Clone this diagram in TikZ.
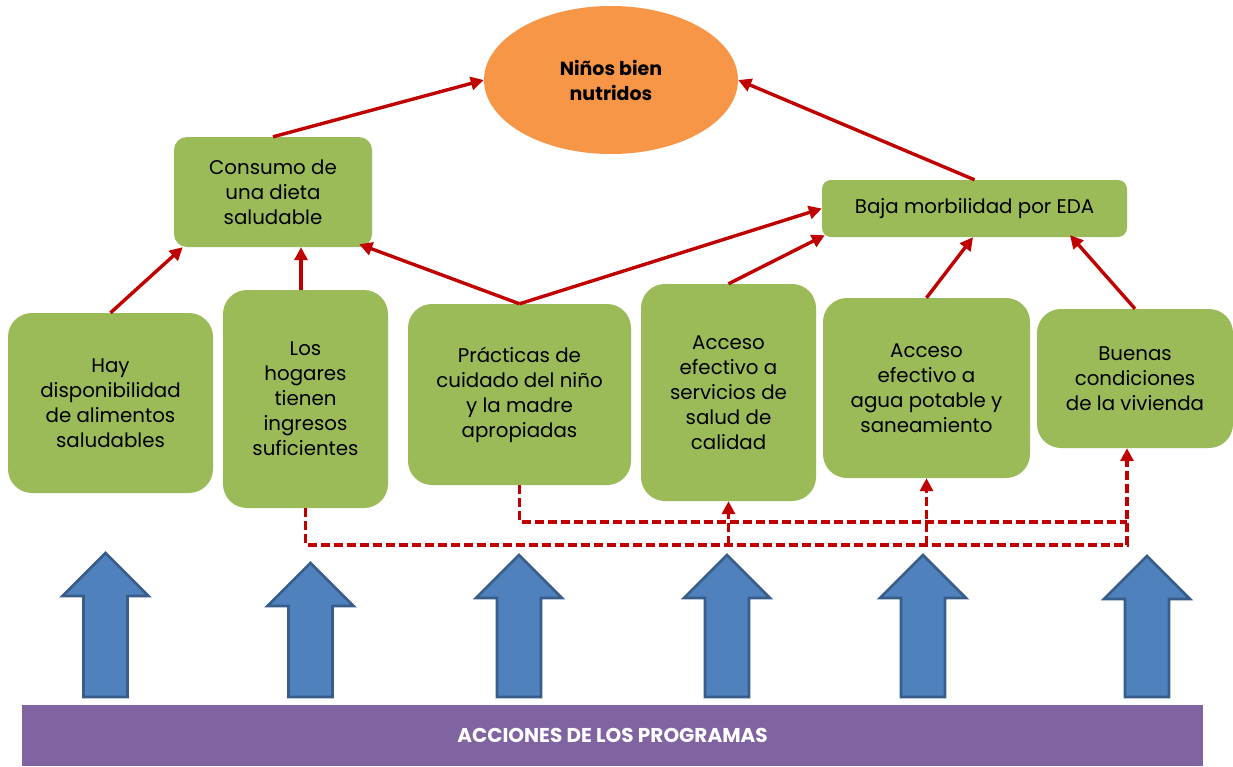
\documentclass[tikz,border=0pt]{standalone}
\usepackage{fontspec}
\setmainfont{Poppins}
\definecolor{boxgreen}{RGB}{155, 187, 89}
\definecolor{linkred}{RGB}{192, 0, 0}
\definecolor{goalorange}{RGB}{247, 150, 70}
\definecolor{actblue}{RGB}{79, 129, 189}
\definecolor{actedge}{RGB}{56, 93, 138}
\definecolor{barviolet}{RGB}{128, 100, 162}
\usetikzlibrary{shapes, arrows.meta, positioning, calc}

\begin{document}
\begin{tikzpicture}[x=1pt, y=-1pt,
  gbox/.style={fill=boxgreen, rounded corners=24pt, align=center, inner sep=0pt, font=\fontsize{19.8}{25}\selectfont},
  link/.style={draw=linkred, line width=3.4pt, -{Triangle[length=13pt, width=13pt]}},
  dlink/.style={draw=linkred, line width=3.2pt, dash pattern=on 9pt off 4pt},
  upblock/.style={fill=actblue, draw=actedge, line width=2.7pt, line join=miter}]
  \useasboundingbox (0,0) rectangle (1233,766);

  % Goal
  \node[ellipse, fill=goalorange, minimum width=254pt, minimum height=148pt, inner sep=0pt, align=center, font=\bfseries\fontsize{19}{25}\selectfont] (goal) at (611, 80) {Niños bien\\nutridos};

  % Intermediate results
  \node[gbox, rounded corners=13pt, minimum width=198pt, minimum height=110pt] (consumo) at (273, 192) {Consumo de\\una dieta\\saludable};
  \node[gbox, rounded corners=9pt, minimum width=305pt, minimum height=57pt] (baja) at (974.5, 208.5) {Baja morbilidad por EDA};

  % Determinants
  \node[gbox, minimum width=205pt, minimum height=180pt] (hay) at (110.5, 403) {Hay\\disponibilidad\\de alimentos\\saludables};
  \node[gbox, minimum width=165pt, minimum height=218pt] (hogares) at (305.5, 399) {Los\\hogares\\tienen\\ingresos\\suficientes};
  \node[gbox, minimum width=223pt, minimum height=181pt] (prac) at (519.5, 394.5) {Prácticas de\\cuidado del niño\\y la madre\\apropiadas};
  \node[gbox, minimum width=175pt, minimum height=217pt] (serv) at (728.5, 392.5) {Acceso\\efectivo a\\servicios de\\salud de\\calidad};
  \node[gbox, minimum width=207pt, minimum height=180pt] (agua) at (926.5, 388) {Acceso\\efectivo a\\agua potable y\\saneamiento};
  \node[gbox, minimum width=196pt, minimum height=139pt] (buenas) at (1135, 378.5) {Buenas\\condiciones\\de la vivienda};

  % Causal links
  \draw[link] (consumo.north) -- (goal.west);
  \draw[link] (baja.north) -- (goal.east);
  \draw[link] (hay.north) -- ($(consumo.south west)+(9,0)$);
  \draw[link] ($(hogares.north)+(-4.5,0)$) -- ($(consumo.south)+(28,0)$);
  \draw[link] (prac.north) -- ($(consumo.south east)+(-13,-3)$);
  \draw[link] (prac.north) -- (baja.west);
  \draw[link] (serv.north) -- ($(baja.south west)+(3,-2)$);
  \draw[link] (agua.north) -- ($(baja.south)+(-1.5,0)$);
  \draw[link] (buenas.north) -- ($(baja.south)+(95.5,-2)$);

  % Dashed links between determinants
  \coordinate (lowrun) at (0, 545);
  \coordinate (highrun) at (0, 522);
  \coordinate (rightrun) at (1127, 0);
  \draw[dlink, -{Triangle[length=13pt, width=13pt]}] (hogares.south) |- (lowrun -| rightrun) -- (rightrun |- buenas.south);
  \draw[dlink] (prac.south) |- (highrun -| rightrun);
  \draw[dlink, -{Triangle[length=13pt, width=13pt]}] (serv.south |- lowrun) -- (serv.south);
  \draw[dlink, -{Triangle[length=13pt, width=13pt]}] (agua.south |- lowrun) -- (agua.south);

  % Program actions
  \foreach \ax/\at in {105.5/553, 310.5/563, 519/555, 727/555, 923/555, 1147/556} {
    \draw[upblock] (\ax-22, 697) -- (\ax-22, \at+43) -- (\ax-43, \at+43) -- (\ax, \at)
      -- (\ax+43, \at+43) -- (\ax+22, \at+43) -- (\ax+22, 697) -- cycle;
  }
  \node[fill=barviolet, minimum width=1181pt, minimum height=61pt, inner sep=0pt, text=white, font=\bfseries\fontsize{20}{24}\selectfont] (acciones) at (612.5, 735.5) {ACCIONES DE LOS PROGRAMAS};
\end{tikzpicture}
\end{document}
